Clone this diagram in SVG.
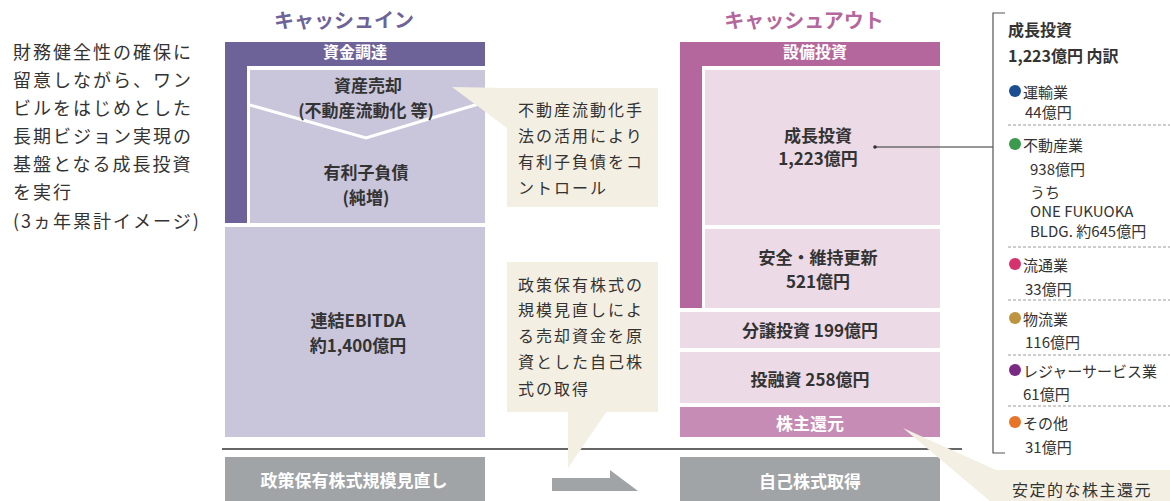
<svg xmlns="http://www.w3.org/2000/svg" width="1170" height="501" viewBox="0 0 1170 501">
<style>
text{font-family:"Noto Sans CJK JP","Noto Sans",sans-serif;fill:#333}
.b{font-weight:700;font-size:17px;text-anchor:middle}
.w{fill:#fff}
.t{font-weight:700;font-size:20px;text-anchor:middle}
.p{font-size:18px;letter-spacing:2px}
.c{font-size:16px;letter-spacing:2px}
.i{font-size:15px}
.h{font-size:16px;font-weight:700}
.dash{stroke:#9a9a9a;stroke-width:1;stroke-dasharray:3 2}
.beige{fill:#f3efe3}
</style>
<rect width="1170" height="501" fill="#fff"/>

<g id="intro">
<text class="p" x="13" y="59">財務健全性の確保に</text>
<text class="p" x="13" y="87">留意しながら、ワン</text>
<text class="p" x="13" y="115">ビルをはじめとした</text>
<text class="p" x="13" y="143">長期ビジョン実現の</text>
<text class="p" x="13" y="171">基盤となる成長投資</text>
<text class="p" x="13" y="199">を実行</text>
<text class="p" x="13" y="228">(3ヵ年累計イメージ)</text>
</g>

<g id="title-in"><text class="t" x="344" y="28" style="fill:#6e6399">キャッシュイン</text></g>
<g id="title-out"><text class="t" x="804" y="28" style="fill:#b4679c">キャッシュアウト</text></g>

<g id="fund">
<path d="M225,42H485V66H247V223H225Z" fill="#6e6399"/>
<text class="b w" x="355" y="58" style="font-size:16px">資金調達</text>
</g>
<g id="asset-debt">
<rect x="250" y="70" width="235" height="153" fill="#c9c5db"/>
<polyline points="250,105 366,138 485,102" fill="none" stroke="#fff" stroke-width="3"/>
<text class="b" x="368" y="92">資産売却</text>
<text class="b" x="366" y="117">(不動産流動化 等)</text>
<text class="b" x="366" y="179">有利子負債</text>
<text class="b" x="366" y="204">(純増)</text>
</g>
<g id="ebitda">
<rect x="225" y="227" width="260" height="210" fill="#c9c5db"/>
<text class="b" x="358" y="327">連結EBITDA</text>
<text class="b" x="358" y="352">約1,400億円</text>
</g>
<g id="policy-stock">
<rect x="225" y="457" width="260" height="44" fill="#a1a4a7"/>
<text class="b w" x="354" y="487">政策保有株式規模見直し</text>
</g>

<g id="capex">
<path d="M680,42H940V66H702V308H680Z" fill="#b4679c"/>
<text class="b w" x="815" y="58" style="font-size:16px">設備投資</text>
</g>
<g id="growth">
<rect x="705" y="70" width="235" height="155" fill="#ecdae6"/>
<text class="b" x="818" y="142">成長投資</text>
<text class="b" x="818" y="165">1,223億円</text>
</g>
<g id="maintain">
<rect x="705" y="229" width="235" height="79" fill="#ecdae6"/>
<text class="b" x="818" y="264">安全・維持更新</text>
<text class="b" x="818" y="288">521億円</text>
</g>
<g id="condo">
<rect x="680" y="312" width="260" height="36" fill="#ecdae6"/>
<text class="b" x="810" y="337">分譲投資 199億円</text>
</g>
<g id="invest">
<rect x="680" y="352" width="260" height="51" fill="#ecdae6"/>
<text class="b" x="810" y="386">投融資 258億円</text>
</g>
<g id="return">
<rect x="680" y="407" width="260" height="30" fill="#c68cb6"/>
<text class="b w" x="810" y="430">株主還元</text>
</g>
<g id="buyback">
<rect x="680" y="457" width="260" height="44" fill="#a1a4a7"/>
<text class="b w" x="810" y="488">自己株式取得</text>
</g>

<g id="connectors">
<line x1="222" y1="449" x2="962" y2="449" stroke="#333" stroke-width="1.5"/>
<polygon points="552,478 610,478 610,470 638,491 552,491" fill="#a1a4a7"/>
<circle cx="875" cy="147" r="1.8" fill="#333"/>
<line x1="875" y1="147" x2="993" y2="147" stroke="#333" stroke-width="1.2"/>
<polyline points="1005,13 993,13 993,453 1005,453" fill="none" stroke="#555" stroke-width="1.2"/>
</g>

<g id="note-debt">
<polygon class="beige" points="452,87 507,88 507,128"/>
<rect class="beige" x="507" y="88" width="151" height="119"/>
<text class="c" x="518" y="116">不動産流動化手</text>
<text class="c" x="518" y="142">法の活用により</text>
<text class="c" x="518" y="168">有利子負債をコ</text>
<text class="c" x="518" y="194">ントロール</text>
</g>
<g id="note-buyback">
<rect class="beige" x="507" y="262" width="151" height="150"/>
<polygon class="beige" points="568,411 607,411 568,468"/>
<text class="c" x="518" y="291">政策保有株式の</text>
<text class="c" x="518" y="316">規模見直しによ</text>
<text class="c" x="518" y="342">る売却資金を原</text>
<text class="c" x="518" y="368">資とした自己株</text>
<text class="c" x="518" y="395">式の取得</text>
</g>
<g id="note-return">
<polygon class="beige" points="903,428 996,470 996,501 990,501"/>
<rect class="beige" x="995" y="470" width="175" height="31"/>
<text x="1012" y="496" style="font-size:16px;letter-spacing:1.5px">安定的な株主還元</text>
</g>

<g id="breakdown">
<text class="h" x="1008" y="36">成長投資</text>
<text class="h" x="1008" y="62">1,223億円 内訳</text>
<circle cx="1015" cy="91" r="6" fill="#1b4f91"/>
<text class="i" x="1023" y="98">運輸業</text>
<text class="i" x="1025" y="118">44億円</text>
<line class="dash" x1="1008" y1="125" x2="1170" y2="125"/>
<circle cx="1015" cy="144" r="6" fill="#3b9a4c"/>
<text class="i" x="1023" y="151">不動産業</text>
<text class="i" x="1030" y="175">938億円</text>
<text class="i" x="1030" y="198">うち</text>
<text class="i" x="1030" y="217">ONE FUKUOKA</text>
<text class="i" x="1030" y="237">BLDG. 約645億円</text>
<line class="dash" x1="1008" y1="247" x2="1170" y2="247"/>
<circle cx="1015" cy="264" r="6" fill="#d6336e"/>
<text class="i" x="1023" y="271">流通業</text>
<text class="i" x="1025" y="295">33億円</text>
<line class="dash" x1="1008" y1="300" x2="1170" y2="300"/>
<circle cx="1015" cy="318" r="6" fill="#bf9441"/>
<text class="i" x="1023" y="325">物流業</text>
<text class="i" x="1025" y="348">116億円</text>
<line class="dash" x1="1008" y1="355" x2="1170" y2="355"/>
<circle cx="1015" cy="370" r="6" fill="#7b2a84"/>
<text class="i" x="1023" y="377">レジャーサービス業</text>
<text class="i" x="1023" y="400">61億円</text>
<line class="dash" x1="1008" y1="406" x2="1170" y2="406"/>
<circle cx="1015" cy="422" r="6" fill="#e8742a"/>
<text class="i" x="1023" y="429">その他</text>
<text class="i" x="1025" y="453">31億円</text>
</g>
</svg>
